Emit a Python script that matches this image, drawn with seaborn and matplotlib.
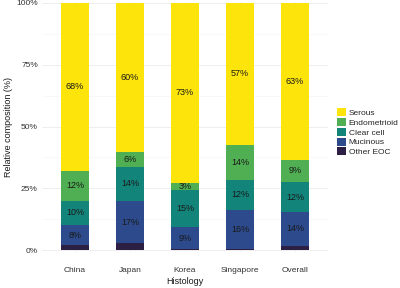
import matplotlib
matplotlib.use("Agg")
import matplotlib.pyplot as plt
import seaborn as sns
import pandas as pd
import numpy as np
from matplotlib.patches import Patch

countries = ["China", "Japan", "Korea", "Singapore", "Overall"]
histologies = ["Serous", "Endometrioid", "Clear cell", "Mucinous", "Other EOC"]
other_eoc = [2.0, 2.8, 0.4, 0.6, 1.8]
mucinous = [8.0, 17.0, 8.8, 15.6, 13.6]
clear_cell = [10.0, 14.0, 15.0, 12.2, 12.0]
endometrioid = [12.0, 6.0, 3.0, 14.2, 9.2]
serous = [68.0, 60.2, 72.8, 57.4, 63.4]
colors = {"Serous": "#FDE50C", "Endometrioid": "#4FAF52", "Clear cell": "#13847A",
          "Mucinous": "#2C4A8C", "Other EOC": "#2D1F43"}

sns.set_theme(style="whitegrid")
plt.rcParams['font.family'] = ['Liberation Sans', 'DejaVu Sans']

df = pd.DataFrame({"Country": countries, "Other EOC": other_eoc, "Mucinous": mucinous,
                   "Clear cell": clear_cell, "Endometrioid": endometrioid, "Serous": serous})
stack_order = ["Other EOC", "Mucinous", "Clear cell", "Endometrioid", "Serous"]
cum = df[stack_order].cumsum(axis=1)

fig = plt.figure(figsize=(4.0, 2.88), dpi=100)
ax = fig.add_axes([42/400, 1 - 252/288, 286/400, 250/288])

for h in reversed(stack_order):
    sns.barplot(x=df["Country"], y=cum[h], color=colors[h], width=0.5, ax=ax,
                saturation=1, linewidth=0, zorder=3)

for i in range(len(countries)):
    bottom = 0
    for h in stack_order:
        v = df[h][i]
        if h != "Other EOC":
            ax.text(i, bottom + v / 2, f"{int(round(v))}%", ha="center", va="center",
                    fontsize=6.5, color="#1a1a1a", zorder=5)
        bottom += v

ax.set_xlim(-0.6, 4.6)
ax.set_ylim(-0.8, 100.4)
ax.set_yticks([0, 25, 50, 75, 100])
ax.set_yticklabels(["0%", "25%", "50%", "75%", "100%"])
ax.set_yticks([12.5, 37.5, 62.5, 87.5], minor=True)
ax.grid(True, which="major", color="#EBEBEB", linewidth=0.6, zorder=0)
ax.grid(True, which="minor", axis="y", color="#F3F3F3", linewidth=0.4, zorder=0)
ax.set_axisbelow(True)
for s in ax.spines.values():
    s.set_visible(False)
ax.tick_params(axis="both", length=0, labelsize=6, colors="#333333", pad=3)
ax.tick_params(axis="x", pad=11)
ax.set_xlabel("Histology", fontsize=6.5, color="#1a1a1a", labelpad=2)
ax.set_ylabel("Relative composition (%)", fontsize=6.5, color="#1a1a1a", labelpad=2)

handles = [Patch(facecolor=colors[h], edgecolor="none", label=h) for h in histologies]
fig.legend(handles=handles, loc="upper left", bbox_to_anchor=(333/400, 1 - 104/288),
           frameon=False, fontsize=6, handlelength=1.0, handleheight=1.1,
           handletextpad=0.4, labelspacing=0.12, borderpad=0)

fig.savefig("out.png", dpi=100)
